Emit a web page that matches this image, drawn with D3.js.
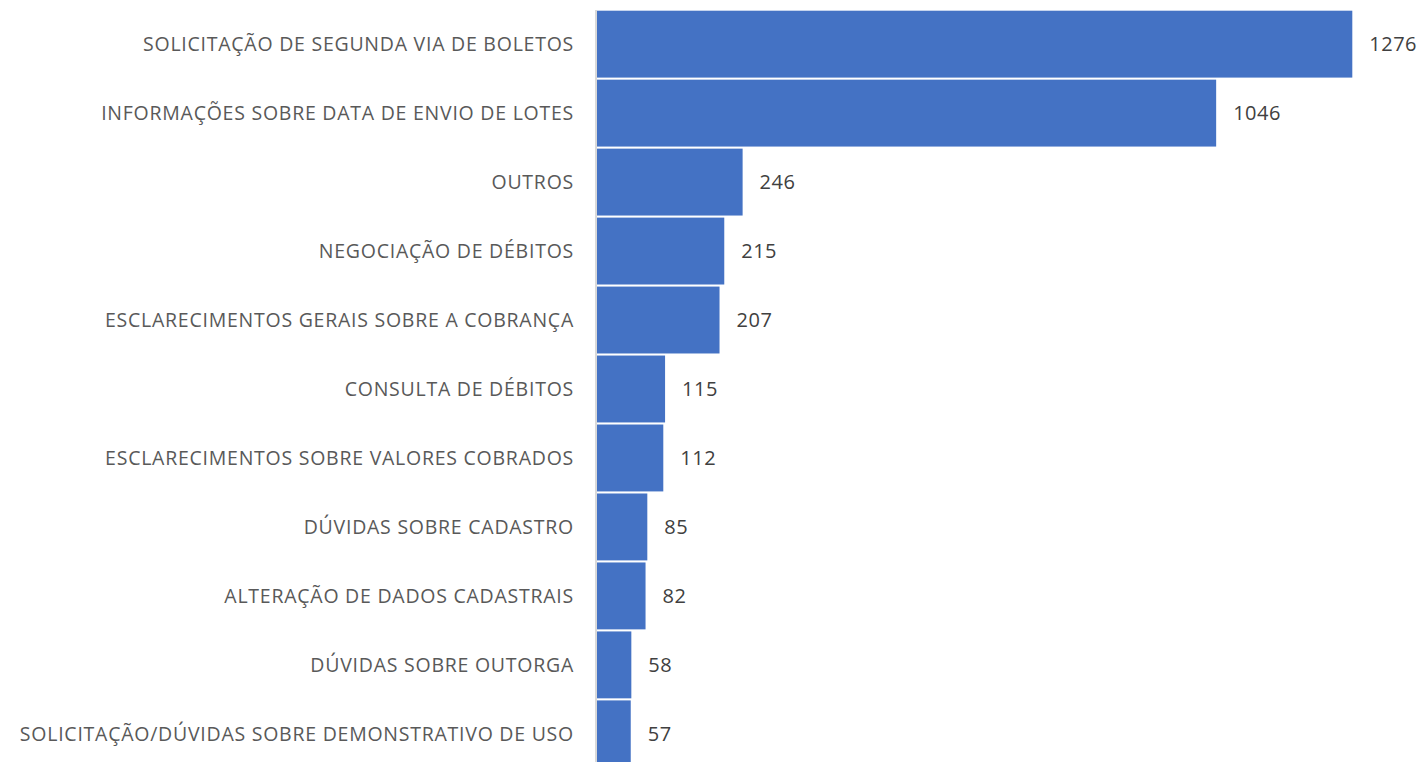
<!DOCTYPE html>
<html><head><meta charset="utf-8">
<script src="https://cdn.jsdelivr.net/npm/d3@7"></script>
<style>body{margin:0;background:#fff}svg{display:block}</style>
</head><body>
<script>
const categories = [
  "SOLICITAÇÃO DE SEGUNDA VIA DE BOLETOS",
  "INFORMAÇÕES SOBRE DATA DE ENVIO DE LOTES",
  "OUTROS",
  "NEGOCIAÇÃO DE DÉBITOS",
  "ESCLARECIMENTOS GERAIS SOBRE A COBRANÇA",
  "CONSULTA DE DÉBITOS",
  "ESCLARECIMENTOS SOBRE VALORES COBRADOS",
  "DÚVIDAS SOBRE CADASTRO",
  "ALTERAÇÃO DE DADOS CADASTRAIS",
  "DÚVIDAS SOBRE OUTORGA",
  "SOLICITAÇÃO/DÚVIDAS SOBRE DEMONSTRATIVO DE USO"
];
const values = [1276, 1046, 246, 215, 207, 115, 112, 85, 82, 58, 57];

const W = 1422, H = 762;
const svg = d3.select("body").append("svg").attr("width", W).attr("height", H);
const x0 = 597;
const x = d3.scaleLinear().domain([0, 1276]).range([x0, 1352.3]);
const y = d3.scaleBand().domain(categories).range([10, 768]).paddingInner(0.03).paddingOuter(0.01);

svg.selectAll("rect.bar").data(categories).join("rect")
  .attr("class", "bar")
  .attr("x", x(0))
  .attr("y", d => y(d))
  .attr("width", (d, i) => x(values[i]) - x(0))
  .attr("height", y.bandwidth())
  .attr("fill", "#4472C4");

// axis line
svg.append("line").attr("x1", x0 - 1).attr("x2", x0 - 1).attr("y1", 10).attr("y2", H)
  .attr("stroke", "#d9d9d9").attr("stroke-width", 2);

const font = "'Open Sans', 'Liberation Sans', sans-serif";
svg.selectAll("text.cat").data(categories).join("text")
  .attr("class", "cat")
  .attr("x", x0 - 23)
  .attr("y", d => y(d) + y.bandwidth() / 2)
  .attr("dy", "0.35em")
  .attr("text-anchor", "end")
  .attr("font-family", font)
  .attr("font-size", 19.5)
  .attr("letter-spacing", 0.75)
  .attr("fill", "#595959")
  .text(d => d);

svg.selectAll("text.val").data(categories).join("text")
  .attr("class", "val")
  .attr("x", (d, i) => x(values[i]) + 17)
  .attr("y", d => y(d) + y.bandwidth() / 2)
  .attr("dy", "0.35em")
  .attr("font-family", font)
  .attr("font-size", 20)
  .attr("letter-spacing", 0.5)
  .attr("fill", "#404040")
  .text((d, i) => values[i]);
</script>
</body></html>
